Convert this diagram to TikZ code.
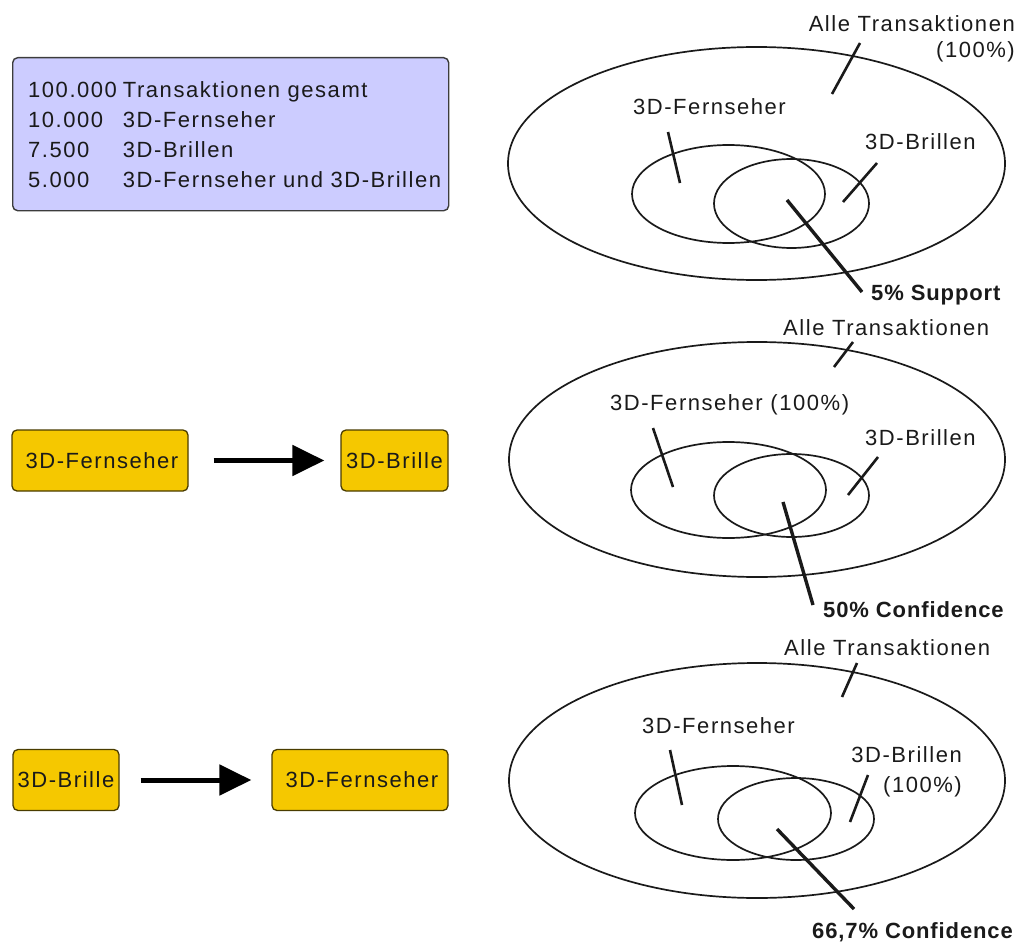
\documentclass[tikz,border=0pt]{standalone}
\usepackage{fontspec}
\setmainfont{Liberation Sans}[LetterSpace=7, BoldFeatures={LetterSpace=4}]
\usetikzlibrary{arrows.meta,shapes.geometric}
\definecolor{infofill}{HTML}{CCCCFF}
\definecolor{itemfill}{HTML}{F5C800}
\definecolor{itemdraw}{HTML}{4A3C00}
\definecolor{ink}{HTML}{1A1A1A}

\begin{document}
\begin{tikzpicture}[x=1pt,y=-1pt,
  every node/.style={font=\fontsize{22}{30}\selectfont, inner sep=0pt, text=ink},
  info/.style={draw=ink!85, fill=infofill, rounded corners=5pt, line width=1.4pt},
  item/.style={draw=itemdraw, fill=itemfill, rounded corners=5pt, line width=1.3pt, minimum height=61pt},
  implies/.style={draw=black, line width=5pt, -{Triangle[length=32pt,width=30pt]}},
  set/.style={draw=ink, line width=1.7pt, ellipse, inner sep=0pt},
  pointer/.style={draw=ink, line width=2.6pt},
  keyline/.style={draw=ink, line width=3.4pt},
  key/.style={font=\fontsize{22}{30}\selectfont\bfseries, anchor=base west}]
\useasboundingbox (0,0) rectangle (1022,944);

% ---------- counts ----------
\node[info, anchor=north west, minimum width=436pt, minimum height=153pt] (stats) at (12,57) {};
\node[anchor=base west] (counts) at (28,98) {%
  \begin{tabular}[t]{@{}l@{\hspace{6pt}}l@{}}
  100.000 & Transaktionen gesamt\\
  10.000  & 3D-Fernseher\\
  7.500   & 3D-Brillen\\
  5.000   & 3D-Fernseher und 3D-Brillen
  \end{tabular}};

% ---------- rules ----------
\node[item, minimum width=176pt] (ruleAtv) at (100,460.5) {\hspace{4pt}3D-Fernseher};
\node[item, minimum width=107pt] (ruleAgl) at (394.5,460.5) {3D-Brille};
\draw[implies, shorten <=25pt, shorten >=16pt] (ruleAtv.east) -- (ruleAgl.west);

\node[item, minimum width=106pt] (ruleBgl) at (66,780) {3D-Brille};
\node[item, minimum width=176pt] (ruleBtv) at (360,780) {\hspace{4pt}3D-Fernseher};
\draw[implies, shorten <=21pt, shorten >=20pt] (ruleBgl.east) -- (ruleBtv.west);

% ---------- support ----------
\node[set, minimum width=497pt, minimum height=233pt] (allA) at (756.5,163.5) {};
\node[set, minimum width=193pt, minimum height=98pt] (tvA) at (728.5,194) {};
\node[set, minimum width=155pt, minimum height=89pt] (glA) at (791.5,203.5) {};
\node[anchor=base east] (allAlbl) at (1015,32) {%
  \begin{tabular}[t]{@{}r@{}}Alle Transaktionen\\[-4pt](100\%)\end{tabular}};
\node[anchor=base west] (tvAlbl) at (633,115) {3D-Fernseher};
\node[anchor=base west] (glAlbl) at (865,150) {3D-Brillen};
\node[key] (supp) at (871,300) {5\% Support};
\coordinate (allAa) at (860,43);  \coordinate (allAb) at (832,94);
\coordinate (tvAa) at (668,132);  \coordinate (tvAb) at (680,183);
\coordinate (glAa) at (877,163);  \coordinate (glAb) at (843,202);
\coordinate (suppA) at (787,200); \coordinate (suppB) at (862,292);
\draw[pointer] (allAa) -- (allAb);
\draw[pointer] (tvAa) -- (tvAb);
\draw[pointer] (glAa) -- (glAb);
\draw[keyline] (suppA) -- (suppB);

% ---------- confidence TV -> glasses ----------
\node[set, minimum width=496pt, minimum height=235pt] (allB) at (757,459.5) {};
\node[set, minimum width=195pt, minimum height=96pt] (tvB) at (728.5,490) {};
\node[set, minimum width=155pt, minimum height=83pt] (glB) at (791.5,495.5) {};
\node[anchor=base west] (allBlbl) at (783,335) {Alle Transaktionen};
\node[anchor=base west] (tvBlbl) at (610,410) {3D-Fernseher (100\%)};
\node[anchor=base west] (glBlbl) at (865,445) {3D-Brillen};
\node[key] (confB) at (823,617) {50\% Confidence};
\coordinate (allBa) at (853,342); \coordinate (allBb) at (834,367);
\coordinate (tvBa) at (653,428);  \coordinate (tvBb) at (673,487);
\coordinate (glBa) at (878,457);  \coordinate (glBb) at (848,495);
\coordinate (confBa) at (783,502); \coordinate (confBb) at (813,605);
\draw[pointer] (allBa) -- (allBb);
\draw[pointer] (tvBa) -- (tvBb);
\draw[pointer] (glBa) -- (glBb);
\draw[keyline] (confBa) -- (confBb);

% ---------- confidence glasses -> TV ----------
\node[set, minimum width=496pt, minimum height=235pt] (allC) at (757,780.5) {};
\node[set, minimum width=196pt, minimum height=94pt] (tvC) at (733,813) {};
\node[set, minimum width=156pt, minimum height=82pt] (glC) at (796,819) {};
\node[anchor=base west] (allClbl) at (784,655) {Alle Transaktionen};
\node[anchor=base west] (tvClbl) at (642,733) {3D-Fernseher};
\node[anchor=base east] (glClbl) at (962,762) {%
  \begin{tabular}[t]{@{}r@{}}3D-Brillen\\(100\%)\end{tabular}};
\node[key] (confC) at (812,938) {66,7\% Confidence};
\coordinate (allCa) at (857,663); \coordinate (allCb) at (842,697);
\coordinate (tvCa) at (670,750);  \coordinate (tvCb) at (682,805);
\coordinate (glCa) at (868,775);  \coordinate (glCb) at (850,822);
\coordinate (confCa) at (777,829); \coordinate (confCb) at (854,909);
\draw[pointer] (allCa) -- (allCb);
\draw[pointer] (tvCa) -- (tvCb);
\draw[pointer] (glCa) -- (glCb);
\draw[keyline] (confCa) -- (confCb);
\end{tikzpicture}
\end{document}
